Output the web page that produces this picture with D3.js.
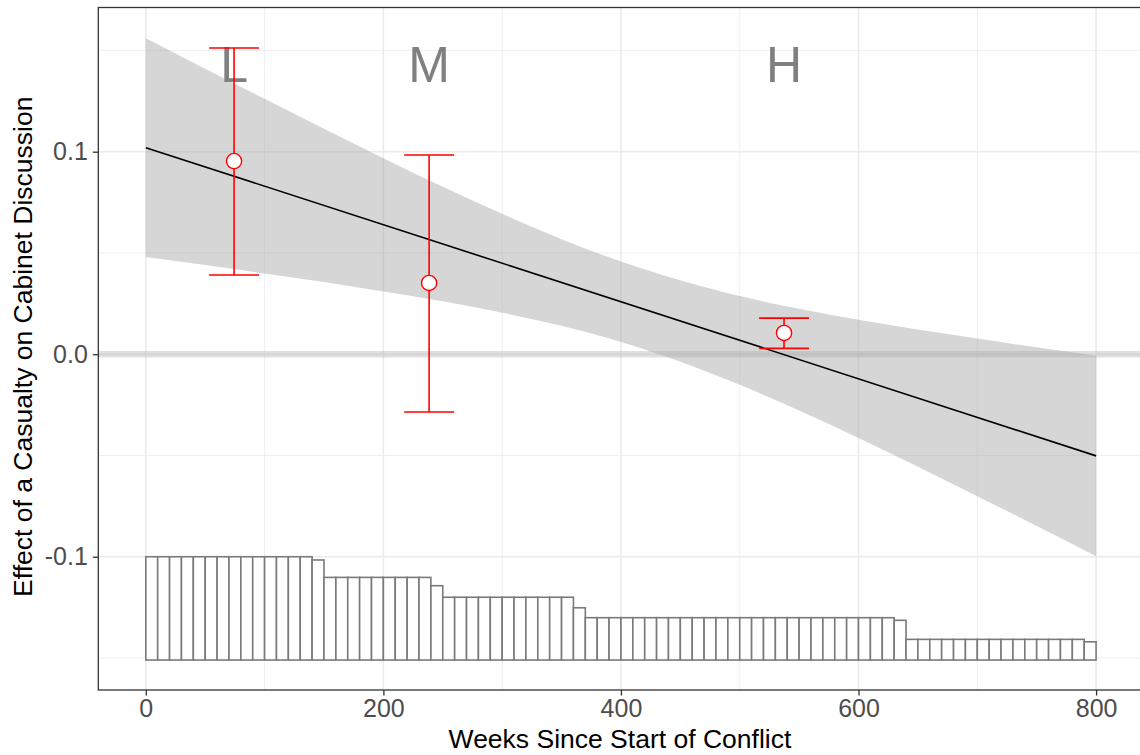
<!DOCTYPE html>
<html>
<head>
<meta charset="utf-8">
<script src="https://cdn.jsdelivr.net/npm/d3@7"></script>
<style>
  html, body { margin: 0; padding: 0; background: #ffffff; }
  svg { display: block; font-family: "Liberation Sans", Arial, Helvetica, sans-serif; }
</style>
</head>
<body>
<svg id="chart" width="1140" height="755"></svg>
<script>
// ---------------- data ----------------
const xTicks = [0, 200, 400, 600, 800];
const xMinorTicks = [100, 300, 500, 700];
const yTicks = [-0.1, 0.0, 0.1];
const yTickLabels = ["-0.1", "0.0", "0.1"];
const yMinorTicks = [-0.15, -0.05, 0.05, 0.15];

// marginal-effect line (linear)
const lineX = [0, 800];
const lineY = [0.102, -0.0502];

// confidence band
const bandX = [0, 50, 100, 150, 200, 250, 300, 350, 400, 450, 500, 550, 600, 650, 700, 750, 800];
const bandUpper = [0.156, 0.141, 0.1261, 0.1113, 0.0968, 0.0827, 0.0693, 0.0568, 0.0458, 0.0365, 0.0287, 0.0224, 0.0170, 0.0122, 0.0077, 0.0034, -0.0007];
const bandLower = [0.048, 0.044, 0.0399, 0.0357, 0.0310, 0.0261, 0.0205, 0.0140, 0.0060, -0.0037, -0.0151, -0.0278, -0.0414, -0.0556, -0.0701, -0.0848, -0.0997];

// binned estimates (L, M, H)
const binLabels = ["L", "M", "H"];
const binX = [74.3, 238.5, 537.3];
const binEst = [0.0954, 0.0352, 0.0105];
const binLo = [0.0391, -0.0285, 0.0029];
const binHi = [0.1512, 0.0984, 0.0178];
const labelY = 0.1435;
const capHalf = 21;

// histogram of the moderator (10-week bins, bar tops in y units)
const histStart = [0,10,20,30,40,50,60,70,80,90,100,110,120,130,140,150,160,170,180,190,200,210,220,230,240,250,260,270,280,290,300,310,320,330,340,350,360,370,380,390,400,410,420,430,440,450,460,470,480,490,500,510,520,530,540,550,560,570,580,590,600,610,620,630,640,650,660,670,680,690,700,710,720,730,740,750,760,770,780,790];
const histTop = [
  -0.1000,-0.1000,-0.1000,-0.1000,-0.1000,-0.1000,-0.1000,-0.1000,-0.1000,-0.1000,-0.1000,-0.1000,-0.1000,-0.1000,
  -0.1016,
  -0.1102,-0.1102,-0.1102,-0.1102,-0.1102,-0.1102,-0.1102,-0.1102,-0.1102,
  -0.1143,
  -0.1200,-0.1200,-0.1200,-0.1200,-0.1200,-0.1200,-0.1200,-0.1200,-0.1200,-0.1200,-0.1200,
  -0.1252,
  -0.1301,-0.1301,-0.1301,-0.1301,-0.1301,-0.1301,-0.1301,-0.1301,-0.1301,-0.1301,-0.1301,-0.1301,-0.1301,
  -0.1301,-0.1301,-0.1301,-0.1301,-0.1301,-0.1301,-0.1301,-0.1301,-0.1301,-0.1301,-0.1301,-0.1301,-0.1301,
  -0.1314,
  -0.1408,-0.1408,-0.1408,-0.1408,-0.1408,-0.1408,-0.1408,-0.1408,-0.1408,-0.1408,-0.1408,-0.1408,-0.1408,-0.1408,-0.1408,
  -0.1420
];
const histBase = -0.151;
const histWidth = 10;

// ---------------- layout ----------------
const svg = d3.select("#chart");
const panel = { left: 98.3, top: 7.5, right: 1143.6, bottom: 690 };

const x = d3.scaleLinear().domain([-40, 840]).range([panel.left, panel.right]);
const y = d3.scaleLinear().domain([-0.1658, 0.1712]).range([panel.bottom, panel.top]);

const g = svg.append("g");

// clip
svg.append("defs").append("clipPath").attr("id", "clip")
  .append("rect").attr("x", panel.left).attr("y", panel.top)
  .attr("width", panel.right - panel.left).attr("height", panel.bottom - panel.top);

const plot = g.append("g").attr("clip-path", "url(#clip)");

// grid
plot.selectAll(".gxm").data(xMinorTicks).enter().append("line")
  .attr("x1", d => x(d)).attr("x2", d => x(d))
  .attr("y1", panel.top).attr("y2", panel.bottom)
  .attr("stroke", "#ebebeb").attr("stroke-width", 0.8);
plot.selectAll(".gym").data(yMinorTicks).enter().append("line")
  .attr("y1", d => y(d)).attr("y2", d => y(d))
  .attr("x1", panel.left).attr("x2", panel.right)
  .attr("stroke", "#ebebeb").attr("stroke-width", 0.8);
plot.selectAll(".gx").data(xTicks).enter().append("line")
  .attr("x1", d => x(d)).attr("x2", d => x(d))
  .attr("y1", panel.top).attr("y2", panel.bottom)
  .attr("stroke", "#ebebeb").attr("stroke-width", 1.6);
plot.selectAll(".gy").data(yTicks).enter().append("line")
  .attr("y1", d => y(d)).attr("y2", d => y(d))
  .attr("x1", panel.left).attr("x2", panel.right)
  .attr("stroke", "#ebebeb").attr("stroke-width", 1.6);

// confidence band
const bandData = bandX.map((d, i) => ({ x: d, lo: bandLower[i], hi: bandUpper[i] }));
plot.append("path").datum(bandData)
  .attr("d", d3.area().curve(d3.curveNatural).x(d => x(d.x)).y0(d => y(d.lo)).y1(d => y(d.hi)))
  .attr("fill", "#999999").attr("fill-opacity", 0.4);

// zero reference line
plot.append("line")
  .attr("x1", panel.left).attr("x2", panel.right)
  .attr("y1", y(0)).attr("y2", y(0))
  .attr("stroke", "#b0b0b0").attr("stroke-opacity", 0.4).attr("stroke-width", 6.5);

// histogram
plot.selectAll(".bar").data(histStart.map((s, i) => ({ s, top: histTop[i] }))).enter().append("rect")
  .attr("x", d => x(d.s)).attr("width", d => x(d.s + histWidth) - x(d.s))
  .attr("y", d => y(d.top)).attr("height", d => y(histBase) - y(d.top))
  .attr("fill", "#ffffff").attr("stroke", "#7a7a7a").attr("stroke-width", 1.6);

// marginal effect line
plot.append("path").datum(lineX.map((d, i) => [d, lineY[i]]))
  .attr("d", d3.line().x(d => x(d[0])).y(d => y(d[1])))
  .attr("fill", "none").attr("stroke", "#000000").attr("stroke-width", 1.6);

// bin letters
plot.selectAll(".lbl").data(binLabels).enter().append("text")
  .attr("x", (d, i) => x(binX[i])).attr("y", y(labelY))
  .attr("dy", "0.36em").attr("text-anchor", "middle")
  .attr("font-size", 50).attr("fill", "#808080")
  .text(d => d);

// error bars
const eb = plot.selectAll(".eb").data(binX.map((d, i) => ({ x: d, est: binEst[i], lo: binLo[i], hi: binHi[i] })))
  .enter().append("g");
eb.append("line").attr("x1", d => x(d.x)).attr("x2", d => x(d.x))
  .attr("y1", d => y(d.lo)).attr("y2", d => y(d.hi))
  .attr("stroke", "#ff0000").attr("stroke-width", 1.6);
eb.append("line").attr("x1", d => x(d.x - capHalf)).attr("x2", d => x(d.x + capHalf))
  .attr("y1", d => y(d.hi)).attr("y2", d => y(d.hi))
  .attr("stroke", "#ff0000").attr("stroke-width", 1.6);
eb.append("line").attr("x1", d => x(d.x - capHalf)).attr("x2", d => x(d.x + capHalf))
  .attr("y1", d => y(d.lo)).attr("y2", d => y(d.lo))
  .attr("stroke", "#ff0000").attr("stroke-width", 1.6);
eb.append("circle").attr("cx", d => x(d.x)).attr("cy", d => y(d.est)).attr("r", 7.6)
  .attr("fill", "#ffffff").attr("stroke", "#ff0000").attr("stroke-width", 1.4);

// panel border
g.append("rect").attr("x", panel.left).attr("y", panel.top)
  .attr("width", panel.right - panel.left).attr("height", panel.bottom - panel.top)
  .attr("fill", "none").attr("stroke", "#333333").attr("stroke-width", 1.3);

// x axis
const xAxis = d3.axisBottom(x).tickValues(xTicks).tickSize(5.5).tickPadding(4).tickFormat(d3.format("d"));
const gx = g.append("g").attr("transform", `translate(0,${panel.bottom})`).call(xAxis);
gx.select(".domain").remove();
gx.selectAll(".tick line").attr("stroke", "#333333").attr("stroke-width", 1.3);
gx.selectAll(".tick text").attr("fill", "#4d4d4d").attr("font-size", 25)
  .attr("font-family", "'Liberation Sans', Arial, sans-serif");

// y axis
const yAxis = d3.axisLeft(y).tickValues(yTicks).tickSize(5.5).tickPadding(5)
  .tickFormat((d, i) => yTickLabels[i]);
const gy = g.append("g").attr("transform", `translate(${panel.left},0)`).call(yAxis);
gy.select(".domain").remove();
gy.selectAll(".tick line").attr("stroke", "#333333").attr("stroke-width", 1.3);
gy.selectAll(".tick text").attr("fill", "#4d4d4d").attr("font-size", 25)
  .attr("font-family", "'Liberation Sans', Arial, sans-serif");

// axis titles
svg.append("text").attr("x", (panel.left + panel.right) / 2 - 1).attr("y", 748)
  .attr("text-anchor", "middle").attr("font-size", 26.5).attr("fill", "#000000")
  .text("Weeks Since Start of Conflict");
svg.append("text").attr("transform", `translate(31.5,${(panel.top + panel.bottom) / 2 - 2}) rotate(-90)`)
  .attr("text-anchor", "middle").attr("font-size", 26.5).attr("fill", "#000000")
  .text("Effect of a Casualty on Cabinet Discussion");
</script>
</body>
</html>
